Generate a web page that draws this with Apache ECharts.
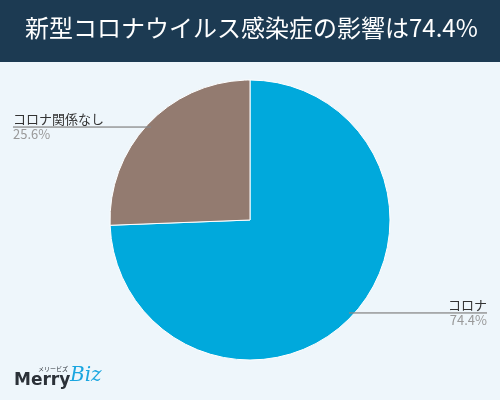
<!DOCTYPE html>
<html><head><meta charset="utf-8">
<script src="https://cdn.jsdelivr.net/npm/echarts@6/dist/echarts.min.js"></script>
<style>html,body{margin:0;padding:0;background:#eef6fb}#chartmain{width:500px;height:400px}</style>
</head><body><div id="chartmain"></div>
<script>
var titleText = '新型コロナウイルス感染症の影響は74.4%';
var names = ['コロナ', 'コロナ関係なし'];
var values = [74.4, 25.6];
var colors = ['#00a9dc', '#937b70'];

window.onload = function(){
    var data = names.map(function(n, i){ return {name: n, value: values[i]}; });
    var option = {
        backgroundColor: '#eef6fb',
        color: colors,
        graphic: [
            {type: 'rect', left: 0, top: 0, shape: {width: 500, height: 62}, style: {fill: '#1c3a52'}},
            {type: 'text', left: 25, top: 16, style: {text: titleText, fill: '#fff', font: '24px "Noto Sans CJK JP"'}},
            {type: 'text', left: 14, top: 372, style: {text: 'Merry', fill: '#2b3138', font: '900 17px "DejaVu Sans"'}},
            {type: 'text', left: 70, top: 366, style: {text: 'Biz', fill: '#1aa6e0', font: 'italic 20px "DejaVu Serif"'}},
            {type: 'text', left: 38, top: 366, style: {text: 'メリービズ', fill: '#2b3138', font: '6px "Noto Sans CJK JP"'}}
        ],
        series: [
            {
                type: 'pie', center: [250, 220], radius: 140, silent: true,
                label: {show: false}, labelLine: {show: false},
                itemStyle: {borderColor: '#fff', borderWidth: 1},
                data: data
            },
            {
                type: 'pie', center: [250, 220], radius: 133, silent: true,
                itemStyle: {color: 'transparent'},
                label: {
                    position: 'outside', alignTo: 'edge', edgeDistance: 13,
                    width: 138, overflow: 'none',
                    formatter: function(p){ return '{n|' + p.name + '}\n{hr|}\n{v|' + p.value.toFixed(1) + '%}'; },
                    rich: {
                        n: {fontSize: 13, color: '#333', fontFamily: 'Noto Sans CJK JP', padding: [0, 0, 1, 0]},
                        hr: {width: '100%', height: 0, borderColor: '#888', borderWidth: 0.8},
                        v: {fontSize: 13, color: '#999', fontFamily: 'Noto Sans CJK JP', padding: [1, 0, 0, 0]}
                    }
                },
                labelLine: {show: true, length: 1, length2: 0, lineStyle: {color: '#888', width: 1}},
                data: data
            }
        ]
    };
    var myChart = echarts.init(document.getElementById('chartmain'));
    myChart.setOption(option);
};
</script></body></html>
